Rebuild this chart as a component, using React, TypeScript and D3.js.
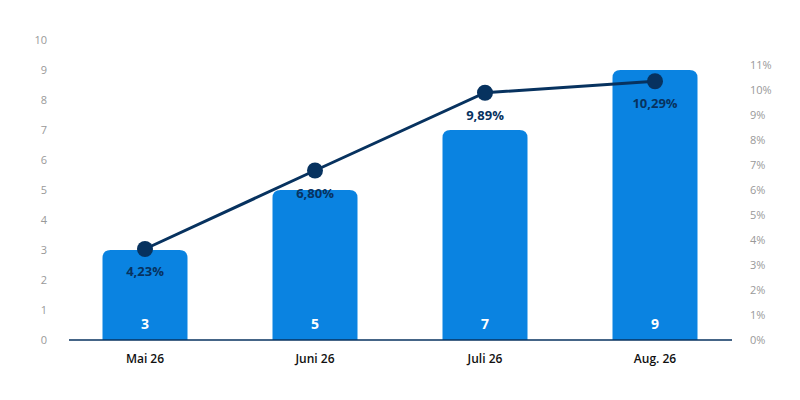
import React from "react";
import * as d3 from "d3";

const categories = ["Mai 26", "Juni 26", "Juli 26", "Aug. 26"];
const barValues = [3, 5, 7, 9];
const linePlotted = [3.64, 6.78, 9.89, 10.35];
const lineLabels = ["4,23%", "6,80%", "9,89%", "10,29%"];
const leftTicks = [0, 1, 2, 3, 4, 5, 6, 7, 8, 9, 10];
const rightTicks = [0, 1, 2, 3, 4, 5, 6, 7, 8, 9, 10, 11];

const W = 800, H = 400;
const plotLeft = 60, plotRight = 740, plotTop = 40, plotBottom = 340;
const font = "'Open Sans', 'Noto Sans', sans-serif";
const barColor = "#0a83e1";
const navy = "#07325f";

function topRoundedRect(x: number, y: number, w: number, h: number, r: number) {
  const rr = Math.min(r, h, w / 2);
  return `M${x},${y + h}V${y + rr}Q${x},${y} ${x + rr},${y}H${x + w - rr}Q${x + w},${y} ${x + w},${y + rr}V${y + h}Z`;
}

export default function App() {
  const x = d3.scaleBand<string>().domain(categories).range([plotLeft, plotRight]).paddingInner(0.5).paddingOuter(0.25);
  const yL = d3.scaleLinear().domain([0, 10]).range([plotBottom, plotTop]);
  const yR = d3.scaleLinear().domain([0, 12]).range([plotBottom, plotTop]);
  const cx = (c: string) => (x(c) as number) + x.bandwidth() / 2;
  const lineGen = d3.line<number>().x((_, i) => cx(categories[i])).y((v) => yR(v));

  return (
    <svg width={W} height={H} style={{ position: "absolute", left: 0, top: 0, background: "#fff" }} fontFamily={font}>
      {leftTicks.map((t) => (
        <text key={"l" + t} x={47} y={yL(t)} dy="0.35em" textAnchor="end" fontSize={11} fill="#999">
          {t}
        </text>
      ))}
      {rightTicks.map((t) => (
        <text key={"r" + t} x={750} y={yR(t)} dy="0.35em" textAnchor="start" fontSize={11} fill="#999">
          {t}%
        </text>
      ))}
      {categories.map((c, i) => {
        const bx = x(c) as number;
        const by = yL(barValues[i]);
        return (
          <g key={c}>
            <path d={topRoundedRect(bx, by, x.bandwidth(), plotBottom - by, 8)} fill={barColor} />
            <text x={cx(c)} y={329} textAnchor="middle" fontSize={14} fontWeight={700} fill="#fff">
              {barValues[i]}
            </text>
            <text x={cx(c)} y={363} textAnchor="middle" fontSize={12} fontWeight={600} fill="#111">
              {c}
            </text>
          </g>
        );
      })}
      <line x1={69} x2={732} y1={plotBottom} y2={plotBottom} stroke={navy} strokeWidth={1.5} />
      <path d={lineGen(linePlotted) || ""} fill="none" stroke={navy} strokeWidth={3} />
      {linePlotted.map((v, i) => (
        <g key={"p" + i}>
          <circle cx={cx(categories[i])} cy={yR(v)} r={8} fill={navy} />
          <text x={cx(categories[i])} y={yR(v) + 27} textAnchor="middle" fontSize={13} fontWeight={700} fill={navy}>
            {lineLabels[i]}
          </text>
        </g>
      ))}
    </svg>
  );
}
